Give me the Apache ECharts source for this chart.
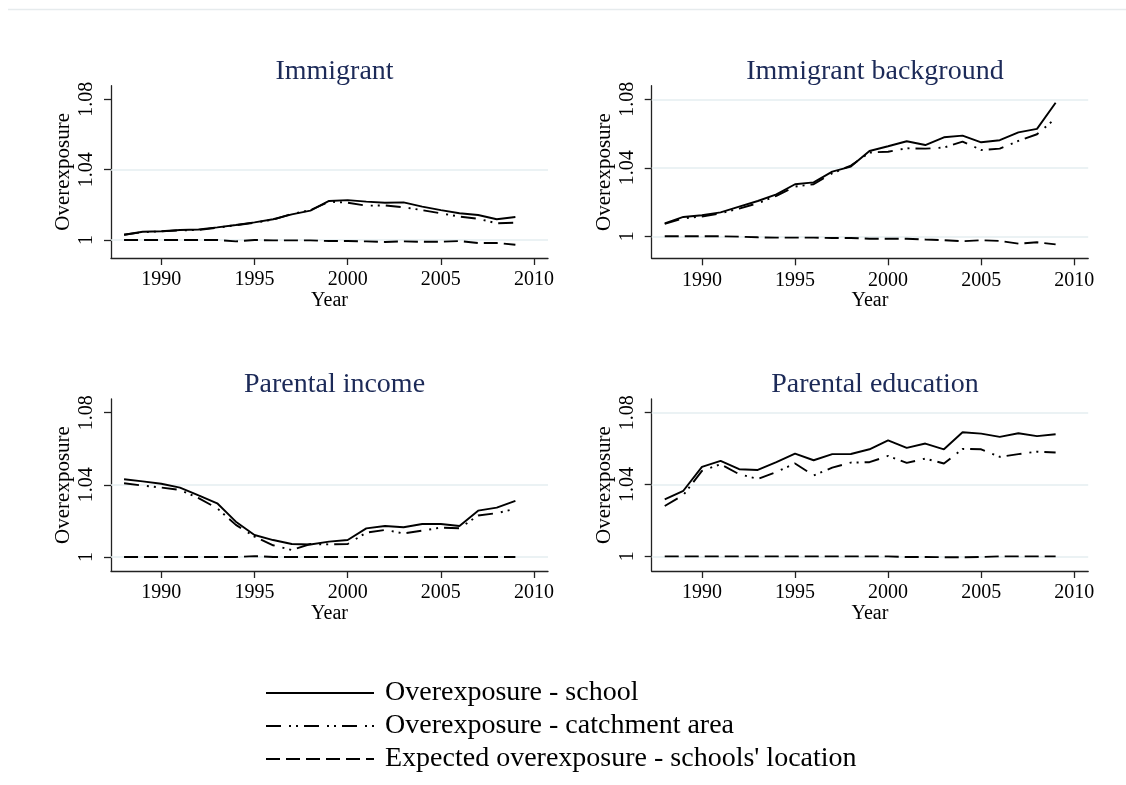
<!DOCTYPE html>
<html><head><meta charset="utf-8">
<script src="https://cdn.jsdelivr.net/npm/echarts@6/dist/echarts.min.js"></script>
<style>html,body{margin:0;padding:0;background:#fff}#c{width:1126px;height:785px}</style>
</head><body><div id="c"></div>
<script>
// ---------- data ----------
const years = [1988,1989,1990,1991,1992,1993,1994,1995,1996,1997,1998,1999,2000,2001,2002,2003,2004,2005,2006,2007,2008,2009];
const xTicks = [1990,1995,2000,2005,2010];
const yTicks = [1, 1.04, 1.08];
const panelTitles = ['Immigrant','Immigrant background','Parental income','Parental education'];
const seriesNames = ['Overexposure - school','Overexposure - catchment area',"Expected overexposure - schools' location"];

const immSchool    = [1.003,1.0047,1.005,1.0057,1.006,1.0072,1.0085,1.010,1.0118,1.0146,1.0167,1.0222,1.0227,1.0218,1.0212,1.0214,1.019,1.017,1.0152,1.0142,1.0118,1.0131];
const immCatch     = [1.003,1.0045,1.0049,1.0055,1.0057,1.007,1.0084,1.0098,1.0116,1.0148,1.017,1.0218,1.0212,1.0195,1.0197,1.0186,1.017,1.0152,1.0133,1.0121,1.0095,1.0099];
const immExpected  = [1.0,1.0,1.0,1.0,1.0,1.0,0.9992,1.0,0.9998,0.9998,0.9998,0.9994,0.9994,0.9992,0.9989,0.9992,0.999,0.999,0.9994,0.9983,0.9983,0.9973];

const bgSchool     = [1.0076,1.0113,1.0123,1.014,1.0173,1.0206,1.0245,1.0304,1.0315,1.0378,1.0407,1.0498,1.0526,1.0555,1.0533,1.0578,1.0588,1.0549,1.0561,1.0607,1.0627,1.078];
const bgCatch      = [1.0072,1.0105,1.0115,1.0134,1.0162,1.0193,1.0236,1.029,1.0304,1.0368,1.0413,1.0489,1.0494,1.0514,1.0512,1.0518,1.0553,1.0504,1.0512,1.0557,1.0596,1.0689];
const bgExpected   = [1.0,1.0,1.0,1.0,0.9998,0.9994,0.9992,0.9992,0.9992,0.999,0.999,0.9986,0.9986,0.9986,0.9981,0.9977,0.9971,0.9977,0.9973,0.9957,0.9965,0.9953];

const incSchool    = [1.0431,1.0419,1.0406,1.0385,1.0341,1.0298,1.0196,1.0122,1.0094,1.0072,1.0069,1.0085,1.0094,1.0159,1.0172,1.0165,1.0183,1.0183,1.0172,1.0257,1.0274,1.0311];
const incCatch     = [1.0409,1.0396,1.0385,1.0372,1.0326,1.027,1.0178,1.0113,1.0065,1.0039,1.0072,1.007,1.0072,1.0135,1.015,1.0131,1.0146,1.0163,1.0159,1.023,1.0243,1.0267];
const incExpected  = [1.0,1.0,1.0,1.0,1.0,1.0,1.0,1.0005,1.0,1.0,1.0,1.0,1.0,1.0,1.0,1.0,1.0,1.0,1.0,1.0,1.0,1.0];

const eduSchool    = [1.0317,1.0365,1.0498,1.0531,1.0485,1.0481,1.0524,1.0572,1.0535,1.0569,1.057,1.0596,1.0646,1.0604,1.0628,1.0596,1.0691,1.0683,1.0665,1.0685,1.0669,1.068];
const eduCatch     = [1.028,1.0341,1.0476,1.0513,1.0457,1.0431,1.047,1.0517,1.045,1.0494,1.0522,1.0524,1.0559,1.052,1.0544,1.0517,1.0598,1.0596,1.0554,1.0569,1.0583,1.0578];
const eduExpected  = [1.0,1.0,1.0,1.0,1.0,1.0,1.0,1.0,1.0,1.0,1.0,1.0,1.0,0.9996,0.9996,0.9995,0.9995,0.9996,1.0,1.0,1.0,1.0];

const gridLevels = [[1,1.04],[1,1.04,1.08],[1,1.04],[1,1.04,1.08]];

// ---------- layout / style ----------
const panels = [
  {left:111, top:85.7, width:437, height:172.3, ymin:0.98977, ymax:1.08773, data:[immSchool,immCatch,immExpected]},
  {left:651.7, top:85.7, width:436.5, height:172.6, ymin:0.98715, ymax:1.08794, data:[bgSchool,bgCatch,bgExpected]},
  {left:111, top:399, width:437, height:172, ymin:0.99224, ymax:1.0876, data:[incSchool,incCatch,incExpected]},
  {left:651.7, top:399, width:436.5, height:172, ymin:0.99183, ymax:1.0876, data:[eduSchool,eduCatch,eduExpected]}
];
const FONT = "'Liberation Serif','Times New Roman',serif";
const dashTypes = ['solid', [15,8,2,5,2,6], [14,6]];
const AX = '#222';

const grid = [], xAxis = [], yAxis = [], series = [], title = [];
panels.forEach((p, i) => {
  grid.push({left:p.left, top:p.top, width:p.width, height:p.height, containLabel:false});
  title.push({text: panelTitles[i], left: p.left + p.width/2, textAlign:'center', top: p.top - 33,
    textStyle:{fontFamily:FONT, fontSize:28, fontWeight:'normal', color:'#1c2a58'}});
  xAxis.push({type:'value', gridIndex:i, min:1987.3, max:2010.75,
    name:'Year', nameLocation:'middle', nameGap:26,
    nameTextStyle:{fontFamily:FONT, fontSize:20, color:'#000'},
    axisLine:{show:true, onZero:false, lineStyle:{color:AX, width:1.3}},
    axisTick:{show:true, length:7, customValues:xTicks, lineStyle:{color:AX, width:1.3}},
    axisLabel:{customValues:xTicks, margin:12, fontFamily:FONT, fontSize:20, color:'#000',
      formatter: v => String(Math.round(v))},
    splitLine:{show:false}});
  yAxis.push({type:'value', gridIndex:i, min:p.ymin, max:p.ymax,
    name:'Overexposure', nameLocation:'middle', nameGap:37, nameRotate:90,
    nameTextStyle:{fontFamily:FONT, fontSize:21, color:'#000'},
    axisLine:{show:true, onZero:false, lineStyle:{color:AX, width:1.3}},
    axisTick:{show:true, length:7, customValues:yTicks, lineStyle:{color:AX, width:1.3}},
    axisLabel:{customValues:yTicks, rotate:90, margin:14, fontFamily:FONT, fontSize:20, color:'#000',
      formatter: v => String(parseFloat(Number(v).toFixed(2)))},
    splitLine:{show:false}});
  // gridlines helper
  series.push({type:'line', xAxisIndex:i, yAxisIndex:i, data:[], silent:true, z:1,
    markLine:{silent:true, z:1, symbol:['none','none'], label:{show:false}, animation:false,
      emphasis:{disabled:true},
      lineStyle:{color:'#e4eef0', width:1.6, type:'solid'},
      data: gridLevels[i].map(v => ({yAxis:v}))}});
  p.data.forEach((arr, k) => {
    series.push({type:'line', name: seriesNames[k], xAxisIndex:i, yAxisIndex:i, z:3,
      data: years.map((y, j) => [y, arr[j]]),
      showSymbol:false, symbol:'none', smooth:false, animation:false,
      itemStyle:{color:'#000'},
      lineStyle:{color:'#000', width:1.9, type: dashTypes[k]}});
  });
});

const chart = echarts.init(document.getElementById('c'), null, {renderer:'canvas'});
chart.setOption({
  backgroundColor:'#fff',
  animation:false,
  title: title,
  grid: grid, xAxis: xAxis, yAxis: yAxis, series: series,
  legend: {data: seriesNames, orient:'vertical', left:260, top:674, itemWidth:108, itemHeight:12, itemGap:5,
    selectedMode:false, itemStyle:{opacity:0},
    textStyle:{fontFamily:FONT, fontSize:28, color:'#000', padding:[0,0,0,6]}},
  graphic: [{type:'line', shape:{x1:8, y1:9.5, x2:1126, y2:9.5}, style:{stroke:'#e6ebed', lineWidth:1.5}, silent:true}]
});
</script></body></html>
